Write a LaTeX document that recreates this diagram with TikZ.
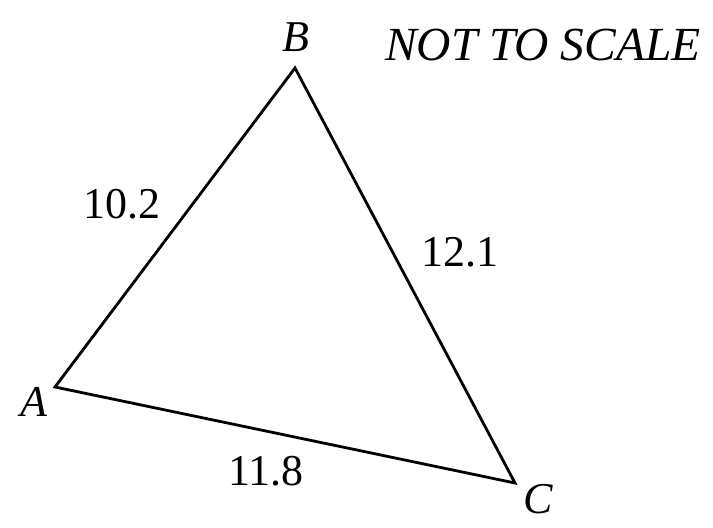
\documentclass[tikz,border=0pt]{standalone}
\usepackage{fontspec}
\setmainfont{Liberation Serif}
\begin{document}
\begin{tikzpicture}[x=1pt,y=-1pt,
  lbl/.style={inner sep=0pt,font=\fontsize{44}{50}\selectfont},
  edge/.style={line width=2.8pt,line join=miter}]
\useasboundingbox (0,0) rectangle (713,528);
\coordinate (A) at (55,387);
\coordinate (B) at (295,68);
\coordinate (C) at (515,483);
\draw[edge] (A) -- (B) -- (C) -- cycle;
\node[lbl] (lB) at (296,37) {\itshape B};
\node[lbl] (lA) at (34,402) {\itshape A};
\node[lbl] (lC) at (538,499) {\itshape C};
\node[lbl] (lAB) at (122,204) {10.2};
\node[lbl] (lBC) at (460,252) {12.1};
\node[lbl] (lAC) at (266,471) {11.8};
\node[lbl,font=\fontsize{47.5}{52}\selectfont] (nts) at (543,45) {\itshape NOT TO SCALE};
\end{tikzpicture}
\end{document}
